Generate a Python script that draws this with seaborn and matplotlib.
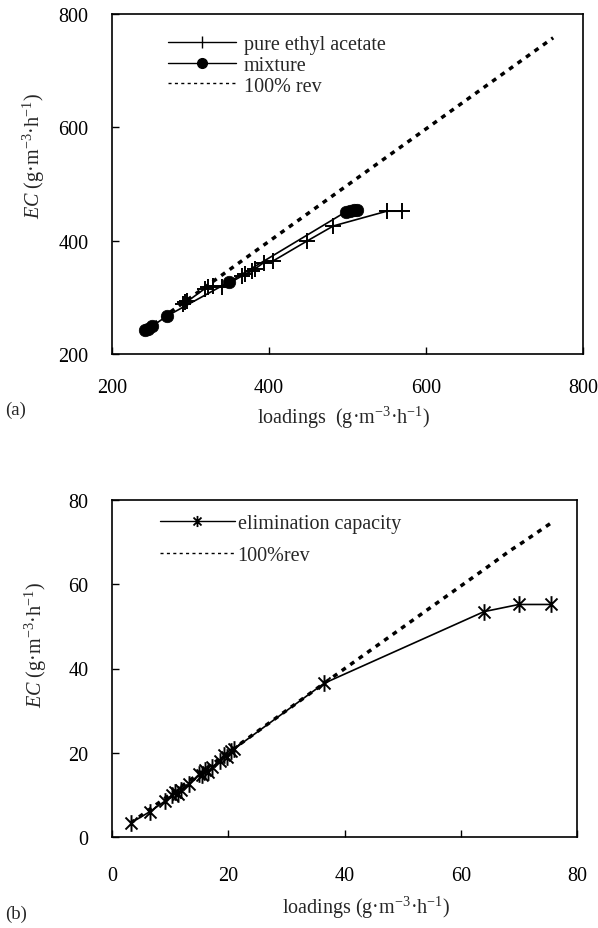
import matplotlib
matplotlib.use("Agg")
import matplotlib.pyplot as plt
from matplotlib.path import Path
from matplotlib.lines import Line2D
import numpy as np
import pandas as pd
import seaborn as sns

# ---- data (a) ----
pure_load = [290, 293, 296, 318, 322, 329, 340, 366, 369, 378, 382, 393, 405, 448, 482, 550, 569]
pure_ec = [288, 291, 293, 315, 318, 320, 318, 338, 341, 346, 350, 361, 364, 399, 426, 452, 452]
mix_load = [242, 246, 251, 270, 349, 498, 503, 508, 512]
mix_ec = [242, 245, 249, 267, 327, 451, 452, 454, 454]
rev_load_a = [242, 762]
rev_ec_a = [242, 758]

# ---- data (b) ----
ec_load = [3.2, 6.5, 9.2, 10.3, 10.8, 11.3, 11.8, 13.2, 15.0, 15.5, 16.0, 16.5, 17.2, 18.5, 19.2, 19.8, 20.5, 21.0, 36.5, 64.0, 70.0, 75.5]
ec_val = [3.3, 6.0, 8.6, 9.9, 10.8, 10.2, 11.2, 12.5, 14.9, 14.6, 15.8, 15.4, 16.5, 18.0, 19.4, 19.0, 20.5, 20.9, 36.5, 53.5, 55.2, 55.2]
rev_load_b = [3.2, 36.5, 64.0, 68.5, 70.5, 75.5]
rev_b = [3.3, 36.5, 63.5, 68.0, 69.8, 74.5]

xticks_a = [200, 400, 600, 800]
yticks_a = [200, 400, 600, 800]
xticks_b = [0, 20, 40, 60, 80]
yticks_b = [0, 20, 40, 60, 80]

sns.set_theme(style="white")
plt.rcParams["font.family"] = ["Liberation Serif", "DejaVu Serif"]
plt.rcParams["mathtext.fontset"] = "custom"
plt.rcParams["mathtext.rm"] = "Liberation Serif"
plt.rcParams["mathtext.it"] = "Liberation Serif:italic"
plt.rcParams["mathtext.default"] = "rm"

FS = 14.5
W, H = 598, 929
fig = plt.figure(figsize=(W / 100, H / 100), dpi=100)

def box(l, t, r, b):
    return [l / W, 1 - b / H, (r - l) / W, (b - t) / H]

ax1 = fig.add_axes(box(112, 15, 583, 355))
ax2 = fig.add_axes(box(112, 501, 577, 838))

star = Path([(0, -1), (0, 1), (-0.72, -0.72), (0.72, 0.72), (-0.72, 0.72), (0.72, -0.72)],
            [Path.MOVETO, Path.LINETO, Path.MOVETO, Path.LINETO, Path.MOVETO, Path.LINETO])

dots = (0, (1.4, 1.6))
K = "black"

# panel a
sns.lineplot(x=pure_load, y=pure_ec, ax=ax1, color=K, linewidth=1.2, marker="+",
             markersize=12, markeredgewidth=1.4, markeredgecolor=K,
             sort=False, estimator=None)
sns.lineplot(x=mix_load, y=mix_ec, ax=ax1, color=K, linewidth=1.2, marker="o",
             markersize=9, markeredgewidth=0.5, markeredgecolor=K, markerfacecolor=K,
             sort=False, estimator=None)
sns.lineplot(x=rev_load_a, y=rev_ec_a, ax=ax1, color=K, linewidth=2.5,
             sort=False, estimator=None)
ax1.lines[-1].set_linestyle(dots)

# panel b
sns.lineplot(x=ec_load, y=ec_val, ax=ax2, color=K, linewidth=1.2, marker=star,
             markersize=12, markeredgewidth=1.4, markeredgecolor=K,
             sort=False, estimator=None)
sns.lineplot(x=rev_load_b, y=rev_b, ax=ax2, color=K, linewidth=2.5,
             sort=False, estimator=None)
ax2.lines[-1].set_linestyle(dots)

for ax, xt, yt, xpad in [(ax1, xticks_a, yticks_a, 17), (ax2, xticks_b, yticks_b, 21)]:
    ax.set_xlim(xt[0], xt[-1])
    ax.set_ylim(yt[0], yt[-1])
    ax.set_xticks(xt)
    ax.set_yticks(yt)
    ax.set_xticklabels([str(v) for v in xt])
    ax.set_yticklabels([str(v) for v in yt])
    ax.tick_params(axis="x", direction="in", length=5, width=1, pad=xpad,
                   labelsize=FS, colors=K, bottom=True)
    ax.tick_params(axis="y", direction="in", length=5, width=1, pad=17,
                   labelsize=FS, colors=K, left=True)
    for s in ax.spines.values():
        s.set_visible(True)
        s.set_color(K)
        s.set_linewidth(1.2)
    ax.set_xlabel("")
    ax.set_ylabel("")
    ax.grid(False)

# legends (proxy handles)
legdash = (0, (2.2, 2.4))
h1 = [Line2D([], [], color=K, lw=1.0, marker="|", markersize=9, markeredgewidth=1.0),
      Line2D([], [], color=K, lw=1.0, marker="o", markersize=7),
      Line2D([], [], color=K, lw=1.0, linestyle=legdash)]
l1 = ["pure ethyl acetate", "mixture", "100% rev"]
ax1.legend(h1, l1, loc="upper left", bbox_to_anchor=(168 / W, 1 - 36 / H),
           bbox_transform=fig.transFigure, frameon=False, fontsize=FS,
           handlelength=3.4, handletextpad=0.35, labelspacing=0.08,
           borderpad=0, borderaxespad=0, numpoints=1)

h2 = [Line2D([], [], color=K, lw=1.0, marker=star, markersize=8, markeredgewidth=1.3),
      Line2D([], [], color=K, lw=1.0, linestyle=legdash)]
l2 = ["elimination capacity", "100%rev"]
ax2.legend(h2, l2, loc="upper left", bbox_to_anchor=(160 / W, 1 - 515 / H),
           bbox_transform=fig.transFigure, frameon=False, fontsize=FS,
           handlelength=3.7, handletextpad=0.15, labelspacing=0.65,
           borderpad=0, borderaxespad=0, numpoints=1)

# axis labels as figure text
xl = r"loadings  (g·m$^{-3}$·h$^{-1}$)"
xl2 = r"loadings (g·m$^{-3}$·h$^{-1}$)"
yl = r"$\mathit{EC}$ (g·m$^{-3}$·h$^{-1}$)"
fig.text(344 / W, 1 - 418 / H, xl, ha="center", va="center", fontsize=FS)
fig.text(366 / W, 1 - 908 / H, xl2, ha="center", va="center", fontsize=FS)
fig.text(34 / W, 1 - 156 / H, yl, ha="center", va="center", rotation=90, fontsize=FS)
fig.text(36 / W, 1 - 645 / H, yl, ha="center", va="center", rotation=90, fontsize=FS)
fig.text(5 / W, 1 - 410 / H, "(a)", ha="left", va="center", fontsize=FS - 1)
fig.text(5 / W, 1 - 914 / H, "(b)", ha="left", va="center", fontsize=FS - 1)

fig.savefig("out.png", dpi=100)
